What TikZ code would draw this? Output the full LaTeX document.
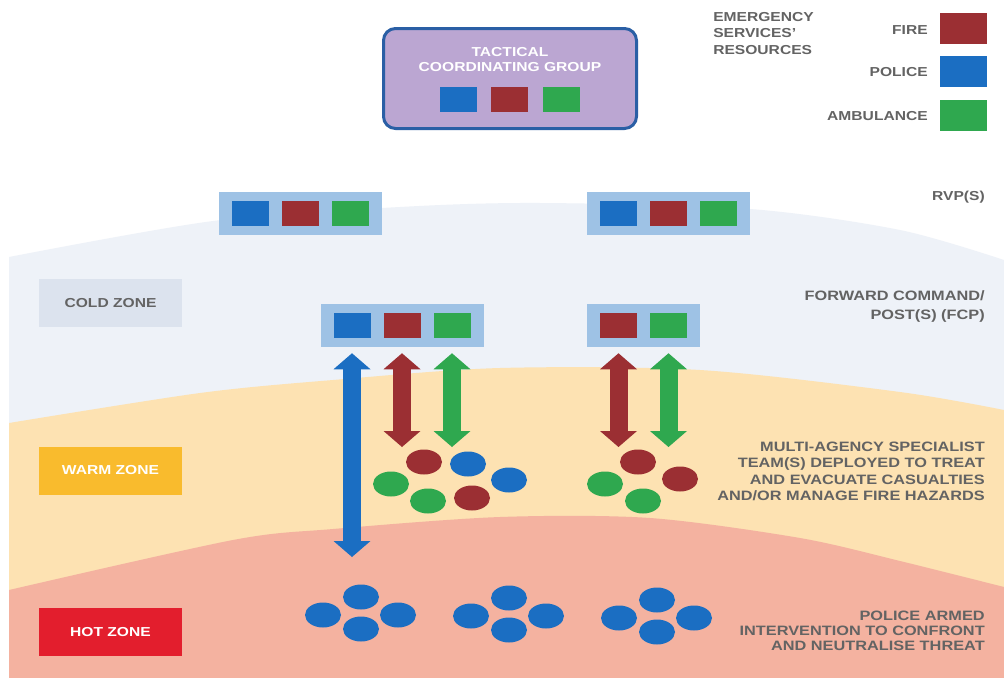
\documentclass[tikz,border=0pt]{standalone}
\usepackage{fontspec}
\setmainfont{Liberation Sans}[FakeStretch=1.2]
\usetikzlibrary{arrows.meta,shapes.geometric}
\definecolor{fire}{HTML}{9B2F33}
\definecolor{police}{HTML}{1B6EC2}
\definecolor{amb}{HTML}{2FA84F}
\definecolor{holder}{HTML}{9EC2E5}
\definecolor{coldz}{HTML}{EEF2F8}
\definecolor{warmz}{HTML}{FDE2B2}
\definecolor{hotz}{HTML}{F4B2A0}
\definecolor{coldlab}{HTML}{DCE3EE}
\definecolor{warmlab}{HTML}{F9BB2D}
\definecolor{hotlab}{HTML}{E31E2D}
\definecolor{txt}{HTML}{636363}
\definecolor{tcgfill}{HTML}{BBA6D2}
\definecolor{tcgline}{HTML}{2A5FA5}
\begin{document}
\begin{tikzpicture}[x=0.75pt,y=-0.75pt,
  lbl/.style={font=\fontsize{9.75}{12}\selectfont\bfseries, text=txt, inner sep=0},
  sq/.style={minimum width=27.75pt, minimum height=18.75pt, inner sep=0},
  fsq/.style={sq, fill=fire}, psq/.style={sq, fill=police}, asq/.style={sq, fill=amb},
  lsq/.style={minimum width=35.25pt, minimum height=23.25pt, inner sep=0},
  hold3/.style={fill=holder, minimum width=122.25pt, minimum height=32.25pt, inner sep=0},
  hold2/.style={fill=holder, minimum width=84.75pt, minimum height=32.25pt, inner sep=0},
  zonelab/.style={minimum width=107.25pt, minimum height=36pt, inner sep=0, font=\fontsize{9.75}{12}\selectfont\bfseries},
  team/.style={ellipse, minimum width=27pt, minimum height=18.75pt, inner sep=0},
  dbl/.style={line width=13.5pt, {Triangle[length=12pt,width=27.75pt,line width=0pt]}-{Triangle[length=12pt,width=27.75pt,line width=0pt]}},
]
\fill[white] (0,0) rectangle (1004,678);
\useasboundingbox (0,0) rectangle (1004,678);
% zones
\fill[coldz] (9,678) -- plot[smooth] coordinates {(9,257) (213,221) (400,207) (540,203) (750,209) (900,230) (1004,260)} -- (1004,678) -- cycle;
\fill[warmz] (9,678) -- plot[smooth] coordinates {(9,423) (200,393) (333,380) (500,368) (700,370) (900,392) (1004,410)} -- (1004,678) -- cycle;
\fill[hotz] (9,678) -- plot[smooth] coordinates {(9,590) (233,540) (333,529) (500,517) (650,518) (800,538) (900,561) (1004,587)} -- (1004,678) -- cycle;

% zone labels
\node[zonelab, fill=coldlab, text=txt] (cold) at (110.5,303) {COLD ZONE};
\node[zonelab, fill=warmlab, text=white] (warm) at (110.5,470.5) {WARM ZONE};
\node[zonelab, fill=hotlab, text=white] (hot) at (110.5,632) {HOT ZONE};

% TCG
\node[draw=tcgline, line width=2.25pt, fill=tcgfill, rounded corners=9pt, minimum width=189.75pt, minimum height=75pt, inner sep=0] (tcg) at (510,78.5) {};
\node[lbl, text=white, align=center, font=\fontsize{9.75}{11.25}\selectfont\bfseries] (tcgt) at (510,59.5) {TACTICAL\\COORDINATING GROUP};
\node[psq] (tcgp) at (458,99.5) {};
\node[fsq] (tcgf) at (509.5,99.5) {};
\node[asq] (tcga) at (561,99.5) {};

% legend
\node[lbl, align=left, anchor=west, font=\fontsize{9.75}{12.4}\selectfont\bfseries] (legt) at (713,33.5) {EMERGENCY\\SERVICES'\\RESOURCES};
\node[lsq, fill=fire] (legf) at (963.5,28.5) {};
\node[lsq, fill=police] (legp) at (963.5,71.5) {};
\node[lsq, fill=amb] (lega) at (963.5,115) {};
\node[lbl, anchor=east] (legfl) at (928,30) {FIRE};
\node[lbl, anchor=east] (legpl) at (928,72) {POLICE};
\node[lbl, anchor=east] (legal) at (928,116) {AMBULANCE};

% RVPs
\node[hold3] (rvpL) at (300,213.5) {};
\node[psq] (rvpLp) at (250,213.5) {};
\node[fsq] (rvpLf) at (300,213.5) {};
\node[asq] (rvpLa) at (350,213.5) {};
\node[hold3] (rvpR) at (668.5,213.5) {};
\node[psq] (rvpRp) at (618.5,213.5) {};
\node[fsq] (rvpRf) at (668.5,213.5) {};
\node[asq] (rvpRa) at (718.5,213.5) {};
\node[lbl, anchor=east] (rvpt) at (985,197) {RVP(S)};

% FCPs
\node[hold3] (fcpL) at (402,325.5) {};
\node[psq] (fcpLp) at (352,325.5) {};
\node[fsq] (fcpLf) at (402,325.5) {};
\node[asq] (fcpLa) at (452,325.5) {};
\node[hold2] (fcpR) at (643.5,325.5) {};
\node[fsq] (fcpRf) at (618.5,325.5) {};
\node[asq] (fcpRa) at (668.5,325.5) {};
\node[lbl, anchor=east, align=right, font=\fontsize{10.2}{14.25}\selectfont\bfseries] (fcpt) at (985,306.5) {FORWARD COMMAND/\\POST(S) (FCP)};

% warm teams
\node[team, fill=fire] (wL1) at (424,462) {};
\node[team, fill=police] (wL2) at (468,464) {};
\node[team, fill=police] (wL3) at (509,480) {};
\node[team, fill=amb] (wL4) at (391,484) {};
\node[team, fill=amb] (wL5) at (428,501) {};
\node[team, fill=fire] (wL6) at (472,498) {};
\node[team, fill=fire] (wR1) at (638,462) {};
\node[team, fill=fire] (wR2) at (680,479) {};
\node[team, fill=amb] (wR3) at (605,484) {};
\node[team, fill=amb] (wR4) at (643,501) {};
\node[lbl, anchor=east, align=right, font=\fontsize{10.2}{12.2}\selectfont\bfseries] (warmt) at (985,471.5) {MULTI-AGENCY SPECIALIST\\TEAM(S) DEPLOYED TO TREAT\\AND EVACUATE CASUALTIES\\AND/OR MANAGE FIRE HAZARDS};

% hot teams
\foreach \g/\cx/\cy in {1/361/613, 2/509/614, 3/657/616}{
  \node[team, fill=police] (h\g t) at (\cx,\cy-16) {};
  \node[team, fill=police] (h\g b) at (\cx,\cy+16) {};
  \node[team, fill=police] (h\g l) at (\cx-38,\cy+2) {};
  \node[team, fill=police] (h\g r) at (\cx+37,\cy+2) {};
}
\node[lbl, anchor=east, align=right, font=\fontsize{10.2}{11.4}\selectfont\bfseries] (hott) at (985,631) {POLICE ARMED\\INTERVENTION TO CONFRONT\\AND NEUTRALISE THREAT};

% arrows
\coordinate (sLp) at ([yshift=-4.5pt]fcpLp |- fcpL.south);
\coordinate (sLf) at ([yshift=-4.5pt]fcpLf |- fcpL.south);
\coordinate (sLa) at ([yshift=-4.5pt]fcpLa |- fcpL.south);
\coordinate (sRf) at ([yshift=-4.5pt]fcpRf |- fcpR.south);
\coordinate (sRa) at ([yshift=-4.5pt]fcpRa |- fcpR.south);
\coordinate (eLp) at (352,557);
\coordinate (eLf) at (402,447);
\coordinate (eLa) at (452,447);
\coordinate (eRf) at (618.5,447);
\coordinate (eRa) at (668.5,447);
\draw[dbl, police] (sLp) -- (eLp);
\draw[dbl, fire] (sLf) -- (eLf);
\draw[dbl, amb] (sLa) -- (eLa);
\draw[dbl, fire] (sRf) -- (eRf);
\draw[dbl, amb] (sRa) -- (eRa);
\end{tikzpicture}
\end{document}
